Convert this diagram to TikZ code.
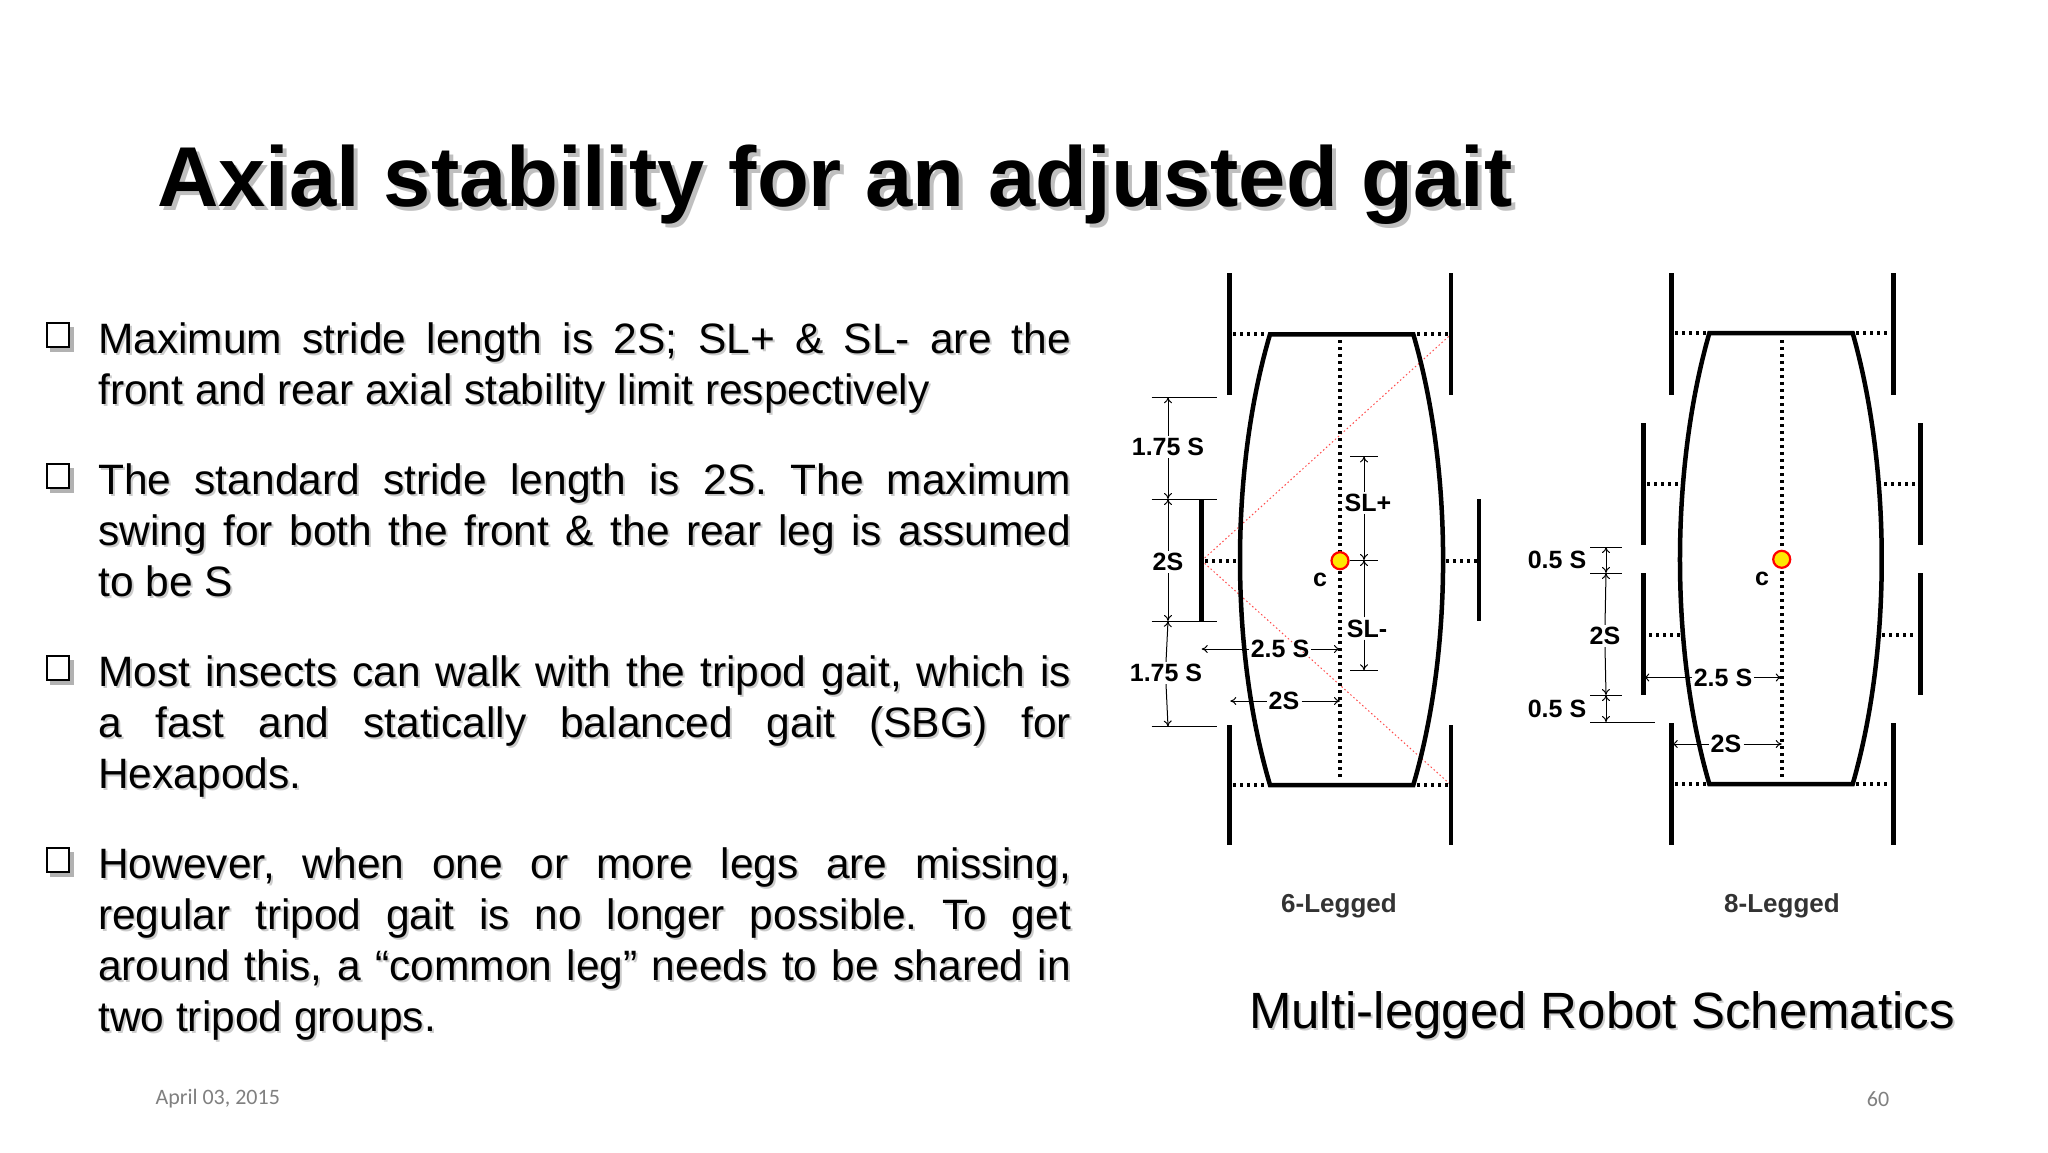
\documentclass[tikz,border=0pt]{standalone}
\usepackage{fontspec}
\setmainfont{Liberation Sans}
\newfontfamily\footfont{Carlito}
\usetikzlibrary{arrows.meta}
\tikzset{
 body/.style={line width=4.5pt,line join=miter},
 leg/.style={line width=4.5pt},
 dotl/.style={line width=4pt,dash pattern=on 3pt off 4pt},
 redl/.style={line width=1pt,draw=red!70,dash pattern=on 1.5pt off 2.5pt},
 dim/.style={line width=1pt},
 dimar/.style={line width=1pt,-{To[length=6pt,width=8pt]}},
 dlab/.style={font=\fontsize{25}{28}\bfseries\selectfont,inner sep=2pt},
 para/.style={anchor=north west,inner sep=0pt,text width=973pt,align=justify,font=\fontsize{42.5}{51}\selectfont,execute at begin node={\frenchspacing\hyphenpenalty=10000\exhyphenpenalty=10000}},
}
\newcommand{\boxbul}[1]{%
 \fill[gray!60] (50,#1-9) rectangle (74,#1+16);
 \fill[white] (47,#1-13) rectangle (69,#1+11);
 \draw[line width=2.5pt] (47,#1-13) rectangle (69,#1+11);}
\newcommand{\ptA}{Maximum stride length is 2S; SL+ \& SL- are the\linebreak front and rear axial stability limit respectively}
\newcommand{\ptB}{The standard stride length is 2S. The maximum\linebreak swing for both the front \& the rear leg is assumed\linebreak to be S}
\newcommand{\ptC}{Most insects can walk with the tripod gait, which is\linebreak a fast and statically balanced gait (SBG) for\linebreak Hexapods.}
\newcommand{\ptD}{However, when one or more legs are missing,\linebreak regular tripod gait is no longer possible. To get\linebreak around this, a “common leg” needs to be shared in\linebreak two tripod groups.}
\begin{document}
\begin{tikzpicture}[x=1pt,y=-1pt]
\useasboundingbox (0,0) rectangle (2048,1152);
\fill[white] (0,0) rectangle (2048,1152);
% title
\node[anchor=base west,inner sep=0pt,text=gray!50,font=\fontsize{85}{88}\bfseries\selectfont] at (161,210) {Axial stability for an adjusted gait};
\node (title)[anchor=base west,inner sep=0pt,font=\fontsize{85}{88}\bfseries\selectfont] at (157,206) {Axial stability for an adjusted gait};
% bullets
\boxbul{336}\boxbul{477}\boxbul{669}\boxbul{861}
\node[para,text=gray!40] at (100,324) {\ptA};
\node (p1)[para] at (98,322) {\ptA};
\node[para,text=gray!40] at (100,465) {\ptB};
\node (p2)[para] at (98,463) {\ptB};
\node[para,text=gray!40] at (100,657) {\ptC};
\node (p3)[para] at (98,655) {\ptC};
\node[para,text=gray!40] at (100,849) {\ptD};
\node (p4)[para] at (98,847) {\ptD};
% footer
\node (date)[anchor=west,text=gray,font=\footfont\fontsize{22}{24}\selectfont] at (152,1099) {April 03, 2015};
\node (pg)[anchor=center,text=gray,font=\footfont\fontsize{22}{24}\selectfont] at (1878,1099) {60};
% caption
\node (cap)[font=\fontsize{51}{54}\selectfont,text=gray!40] at (1604,1017) {Multi-legged Robot Schematics};
\node (cap2)[font=\fontsize{51}{54}\selectfont] at (1602,1015) {Multi-legged Robot Schematics};
\node (l6)[font=\fontsize{26}{28}\bfseries\selectfont,text=black!80] at (1339,906) {6-Legged};
\node (l8)[font=\fontsize{26}{28}\bfseries\selectfont,text=black!80] at (1782,906) {8-Legged};

%% ===== 6-legged =====
\coordinate (a1) at (1270,334.3); \coordinate (a2) at (1413.3,334.3);
\coordinate (a3) at (1413.3,785); \coordinate (a4) at (1270,785);
\draw[redl] (1201.7,560.7) -- (1451,334.3);
\draw[redl] (1201.7,560.7) -- (1451,785);
\draw[dotl] (1340,340) -- (1340,778);
\draw[body] (a1) -- (a2) .. controls (1453,470) and (1453,650) .. (a3) -- (a4) .. controls (1230,650) and (1230,470) .. cycle;
\draw[leg] (1229.3,273) -- (1229.3,395); \draw[leg] (1451,273) -- (1451,395);
\draw[leg] (1229.3,725) -- (1229.3,845); \draw[leg] (1451,725) -- (1451,845);
\draw[leg] (1201.7,499) -- (1201.7,621); \draw[leg] (1479,499) -- (1479,621);
\draw[dotl] (1233,334.3) -- (1268,334.3); \draw[dotl] (1417,334.3) -- (1449,334.3);
\draw[dotl] (1233,785) -- (1268,785); \draw[dotl] (1417,785) -- (1449,785);
\draw[dotl] (1205,560.7) -- (1240,560.7); \draw[dotl] (1446,560.7) -- (1477,560.7);
% dims left
\foreach \y in {397.2,499,621,726.5} \draw[dim] (1151.7,\y) -- (1216.7,\y);
\node (d1)[dlab] at (1168,447) {1.75 S};
\node (d2)[dlab] at (1168,562) {2S};
\node (d3)[dlab] at (1166,673) {1.75 S};
\draw[dimar] (d1.north) -- (1168,397.2); \draw[dimar] (d1.south) -- (1168,499);
\draw[dimar] (d2.north) -- (1168,499); \draw[dimar] (d2.south) -- (1168,621);
\draw[dimar] (d3.north) -- (1168,621); \draw[dimar] (d3.south) -- (1168,726.5);
% horizontal dims
\node (d4)[dlab] at (1280,649) {2.5 S};
\draw[dimar] (d4.west) -- (1201.7,649); \draw[dimar] (d4.east) -- (1340,649);
\node (d5)[dlab] at (1284,701) {2S};
\draw[dimar] (d5.west) -- (1230.3,701); \draw[dimar] (d5.east) -- (1340,701);
% SL dims
\draw[dim] (1350,456.4) -- (1378,456.4); \draw[dim] (1350,560) -- (1378,560); \draw[dim] (1350,670.3) -- (1378,670.3);
\node (sl1)[dlab] at (1368,502.7) {SL+};
\node (sl2)[dlab] at (1367,628.5) {SL-};
\draw[dimar] (sl1.north -| 1364,0) -- (1364,456.4); \draw[dimar] (sl1.south -| 1364,0) -- (1364,560);
\draw[dimar] (sl2.north -| 1364,0) -- (1364,560); \draw[dimar] (sl2.south -| 1364,0) -- (1364,670.3);
\node (c6)[circle,draw=red,line width=2.2pt,fill=yellow!90!orange,minimum size=17pt,inner sep=0pt] at (1340,560.7) {};
\node (cl6)[dlab] at (1320,580) {c};

%% ===== 8-legged =====
\coordinate (b1) at (1709.3,333.2); \coordinate (b2) at (1852.7,333.2);
\coordinate (b3) at (1852.7,784); \coordinate (b4) at (1709.3,784);
\draw[dotl] (1781.7,340) -- (1781.7,778);
\draw[body] (b1) -- (b2) .. controls (1891.4,470) and (1891.4,650) .. (b3) -- (b4) .. controls (1670.2,650) and (1670.2,470) .. cycle;
\draw[leg] (1671.7,273) -- (1671.7,395); \draw[leg] (1893.3,273) -- (1893.3,395);
\draw[leg] (1671.7,723) -- (1671.7,845); \draw[leg] (1893.3,723) -- (1893.3,845);
\draw[leg] (1643.3,423) -- (1643.3,545); \draw[leg] (1920.7,423) -- (1920.7,545);
\draw[leg] (1643.3,573) -- (1643.3,695); \draw[leg] (1920.7,573) -- (1920.7,695);
\draw[dotl] (1675,333.2) -- (1707,333.2); \draw[dotl] (1856,333.2) -- (1891,333.2);
\draw[dotl] (1675,784) -- (1707,784); \draw[dotl] (1856,784) -- (1891,784);
\draw[dotl] (1647,484.2) -- (1678,484.2); \draw[dotl] (1884,484.2) -- (1918,484.2);
\draw[dotl] (1649,634.7) -- (1680,634.7); \draw[dotl] (1882,634.7) -- (1915,634.7);
\draw[dim] (1590,547) -- (1621.7,547); \draw[dim] (1590,573) -- (1621.7,573);
\draw[dim] (1590,695) -- (1621.7,695); \draw[dim] (1590,722) -- (1655,722);
\node (e1)[dlab] at (1557,560) {0.5 S};
\node (e2)[dlab] at (1605,636) {2S};
\node (e3)[dlab] at (1557,709) {0.5 S};
\draw[dimar] (1606,560) -- (1606,547); \draw[dimar] (1606,560) -- (1606,573);
\draw[dimar] (e2.north) -- (1606,573); \draw[dimar] (e2.south) -- (1606,695);
\draw[dimar] (1606,709) -- (1606,695); \draw[dimar] (1606,709) -- (1606,722);
\node (e4)[dlab] at (1723,677.5) {2.5 S};
\draw[dimar] (e4.west) -- (1643.3,677.5); \draw[dimar] (e4.east) -- (1781.7,677.5);
\node (e5)[dlab] at (1726,744) {2S};
\draw[dimar] (e5.west) -- (1671.7,744); \draw[dimar] (e5.east) -- (1781.7,744);
\node (c8)[circle,draw=red,line width=2.2pt,fill=yellow!90!orange,minimum size=17pt,inner sep=0pt] at (1781.7,559.3) {};
\node (cl8)[dlab] at (1762,579) {c};
\end{tikzpicture}
\end{document}
